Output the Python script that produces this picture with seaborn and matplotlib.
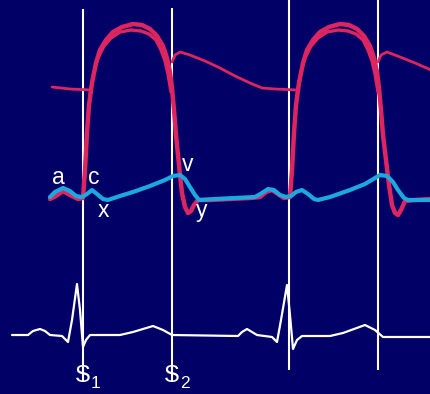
import matplotlib.pyplot as plt
import pandas as pd
import seaborn as sns

# values: x = time (px), y = height (px from top, axis is inverted)

# left ventricular pressure (outer trace, two beats)
lv_t = [50, 56, 63, 70, 78, 83, 85, 87, 89, 92, 96, 100, 106, 113, 122, 133, 142, 150, 157, 163,
        167, 170, 172, 174, 176, 178, 180, 182, 185, 188, 191, 194, 198, 210, 230, 250, 260, 266,
        272, 278, 284, 290, 292, 294, 296, 299, 303, 307, 313, 320, 329, 340, 349, 357, 364, 370,
        374, 377, 379, 381, 383, 386, 389, 392, 395, 398, 401, 405, 415, 431]
lv_p = [199, 196, 191, 195, 199, 198, 170, 133, 105, 83, 63, 50, 40, 32, 27, 24, 25, 29, 36, 46,
        58, 72, 88, 110, 135, 155, 175, 193, 207, 213, 211, 205, 200, 200, 199, 198, 197, 192,
        190, 194, 198, 197, 170, 133, 105, 83, 63, 50, 40, 32, 27, 24, 25, 29, 36, 46,
        58, 72, 88, 110, 135, 160, 185, 205, 213, 215, 210, 201, 200, 199]

# inner trace of the ventricular pressure (visible near the systolic peak)
lv2_beat = [1] * 14 + [2] * 14
lv2_t = [90, 94, 98, 104, 111, 120, 131, 141, 149, 156, 161, 165, 168, 171,
         297, 301, 305, 311, 318, 327, 338, 348, 356, 363, 368, 372, 375, 378]
lv2_p = [95, 72, 58, 46, 38, 32, 30, 31, 34, 40, 50, 61, 74, 92,
         95, 72, 58, 46, 38, 32, 30, 31, 34, 40, 50, 61, 74, 92]

# aortic pressure (hidden under the ventricle during ejection)
ao_seg = [1, 1, 1, 2, 2, 2, 2, 2, 2, 2, 2, 2, 2, 2, 3, 3, 3, 3, 3, 3]
ao_t = [52, 70, 91, 172, 175, 180, 190, 205, 220, 235, 250, 262, 275, 297,
        378, 381, 387, 400, 415, 431]
ao_p = [87, 89, 90, 62, 55, 52, 55, 61, 68, 76, 83, 88, 89, 90,
        62, 55, 52, 57, 63, 70]

# atrial / jugular venous pressure
ja_t = [50, 55, 63, 70, 76, 82, 87, 92, 97, 103, 108, 120, 133, 150, 165, 173, 180, 185, 190,
        195, 199, 215, 235, 255, 262, 268, 274, 280, 286, 291, 296, 302, 308, 314, 318, 330,
        350, 365, 380, 387, 393, 398, 404, 408, 431]
ja_p = [197, 192, 188, 191, 196, 197, 194, 190, 194, 199, 200, 196, 192, 186, 180, 176, 175, 179,
        187, 195, 200, 199, 198, 197, 193, 189, 190, 195, 197, 196, 192, 190, 194, 199, 200, 197,
        190, 184, 175, 176, 182, 190, 198, 200, 200]

# ECG
ecg_t = [12, 28, 33, 40, 45, 50, 62, 68, 72, 77, 80, 83, 86, 90, 120, 133, 153, 163, 172,
         238, 242, 247, 252, 257, 272, 277, 281, 287, 290, 293, 297, 302, 330, 343, 365, 375,
         383, 431]
ecg_v = [335, 335, 331, 329, 331, 335, 336, 342, 320, 284, 310, 347, 340, 335, 335, 332, 326,
         330, 335, 336, 332, 329, 332, 335, 337, 342, 320, 285, 315, 349, 340, 336, 336, 333,
         325, 330, 337, 337]

# heart sound markers
s_t = [83, 172, 289, 378]
s_top = [9, 8, 0, 0]
s_bottom = [381, 381, 370, 370]

wave_labels = ['a', 'c', 'x', 'v', 'y']
wave_t = [58, 94, 103, 188, 202]
wave_p = [184, 184, 217, 171, 217]

BG = '#000066'
RED = '#dd2560'
BLUE = '#1ba9e0'

sns.set_style('dark')
plt.rcParams['font.family'] = ['Liberation Sans', 'DejaVu Sans']

fig = plt.figure(figsize=(4.31, 3.94), dpi=100, facecolor=BG)
ax = fig.add_axes([0, 0, 1, 1])
ax.set_facecolor(BG)

ax.vlines(s_t, s_top, s_bottom, color='white', lw=1.5, zorder=1)

lv = pd.DataFrame({'t': lv_t, 'p': lv_p})
lv2 = pd.DataFrame({'t': lv2_t, 'p': lv2_p, 'beat': lv2_beat})
ao = pd.DataFrame({'t': ao_t, 'p': ao_p, 'seg': ao_seg})
ja = pd.DataFrame({'t': ja_t, 'p': ja_p})
ecg = pd.DataFrame({'t': ecg_t, 'v': ecg_v})

sns.lineplot(data=ao, x='t', y='p', units='seg', estimator=None, sort=False,
             color=RED, lw=2.0, ax=ax, zorder=2)
sns.lineplot(data=lv, x='t', y='p', estimator=None, sort=False,
             color=RED, lw=3.2, ax=ax, zorder=3)
sns.lineplot(data=lv2, x='t', y='p', units='beat', estimator=None, sort=False,
             color=RED, lw=2.4, ax=ax, zorder=3)
sns.lineplot(data=ja, x='t', y='p', estimator=None, sort=False,
             color=BLUE, lw=3.0, ax=ax, zorder=4)
sns.lineplot(data=ecg, x='t', y='v', estimator=None, sort=False,
             color='white', lw=1.6, ax=ax, zorder=4)

for lab, t, p in zip(wave_labels, wave_t, wave_p):
    ax.text(t, p, lab, color='white', fontsize=16.5, ha='center', va='baseline', zorder=5)

for t, n in zip(s_t[:2], ['1', '2']):
    ax.text(t, 382, 'S', color='white', fontsize=17, ha='center', va='baseline', zorder=5)
    ax.text(t + 8, 388, n, color='white', fontsize=12.5, ha='left', va='baseline', zorder=5)

ax.set_xlim(0, 431)
ax.set_ylim(394, 0)
ax.set_xlabel('')
ax.set_ylabel('')
ax.set_xticks([])
ax.set_yticks([])
for s in ax.spines.values():
    s.set_visible(False)

fig.savefig('out.png', dpi=100, facecolor=BG)
